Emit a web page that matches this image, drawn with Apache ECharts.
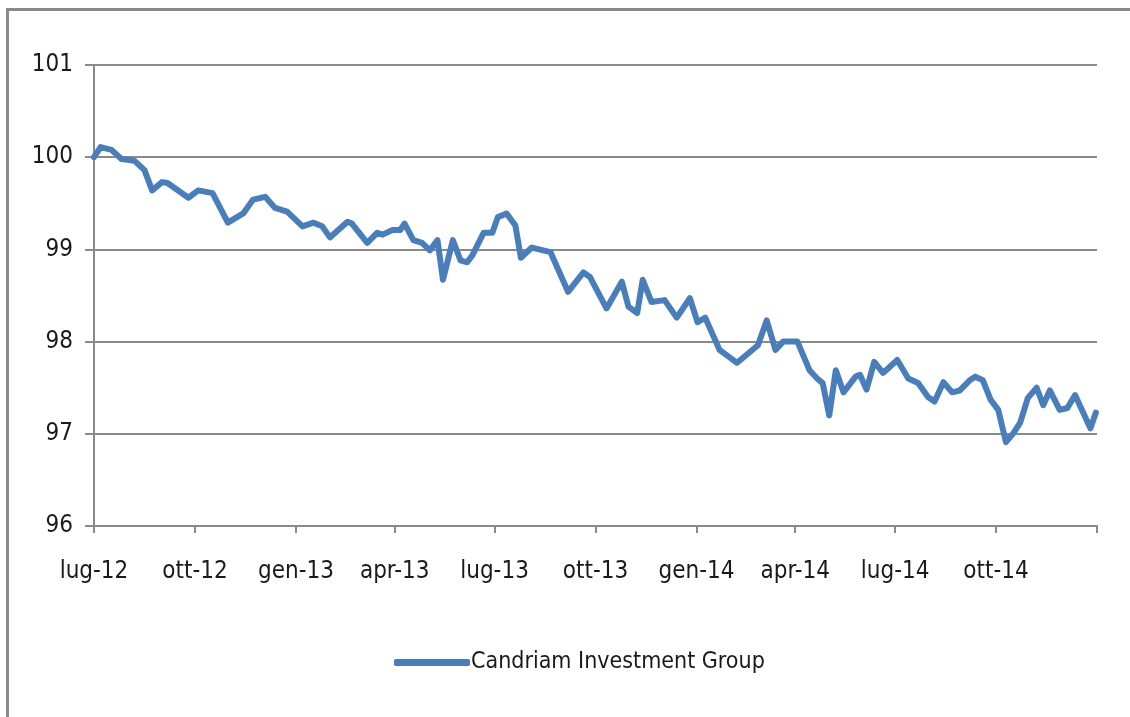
<!DOCTYPE html>
<html>
<head>
<meta charset="utf-8">
<script src="https://cdn.jsdelivr.net/npm/echarts@6/dist/echarts.min.js"></script>
<style>
  html, body { margin: 0; padding: 0; background: #fff; }
  #chart { width: 1130px; height: 717px; }
</style>
</head>
<body>
<div id="chart"></div>
<script>
// dates and values (points along the line)
var dates = [
    '2012-07-01','2012-07-07','2012-07-17','2012-07-26','2012-08-07','2012-08-16','2012-08-23',
    '2012-09-01','2012-09-06','2012-09-25','2012-10-04','2012-10-17','2012-10-31','2012-11-14',
    '2012-11-23','2012-12-04','2012-12-13','2012-12-24','2013-01-07','2013-01-17','2013-01-25',
    '2013-02-01','2013-02-17','2013-02-21','2013-03-07','2013-03-16','2013-03-21','2013-03-30',
    '2013-04-06','2013-04-10','2013-04-18','2013-04-26','2013-05-03','2013-05-10','2013-05-15',
    '2013-05-24','2013-05-31','2013-06-06','2013-06-11','2013-06-21','2013-06-29','2013-07-04',
    '2013-07-12','2013-07-20','2013-07-25','2013-08-04','2013-08-21','2013-09-06','2013-09-20',
    '2013-09-26','2013-10-11','2013-10-25','2013-10-31','2013-11-08','2013-11-13','2013-11-21',
    '2013-12-03','2013-12-14','2013-12-26','2014-01-02','2014-01-09','2014-01-22','2014-02-07',
    '2014-02-16','2014-02-26','2014-03-06','2014-03-14','2014-03-21','2014-04-03','2014-04-14',
    '2014-04-21','2014-04-26','2014-05-02','2014-05-08','2014-05-15','2014-05-26','2014-05-30',
    '2014-06-05','2014-06-12','2014-06-20','2014-07-03','2014-07-13','2014-07-22','2014-07-31',
    '2014-08-06','2014-08-14','2014-08-22','2014-08-29','2014-09-07','2014-09-12','2014-09-19',
    '2014-09-26','2014-10-03','2014-10-10','2014-10-17','2014-10-23','2014-10-30','2014-11-07',
    '2014-11-13','2014-11-19','2014-11-28','2014-12-05','2014-12-12','2014-12-26','2014-12-31'
];
var values = [
    100.00, 100.11, 100.08, 99.98, 99.96, 99.86, 99.64,
    99.73, 99.72, 99.56, 99.64, 99.61, 99.29, 99.39,
    99.54, 99.57, 99.45, 99.41, 99.25, 99.29, 99.25,
    99.13, 99.30, 99.28, 99.07, 99.18, 99.16, 99.21,
    99.21, 99.28, 99.10, 99.07, 98.99, 99.10, 98.67,
    99.10, 98.88, 98.86, 98.94, 99.18, 99.18, 99.35,
    99.39, 99.26, 98.91, 99.02, 98.97, 98.54, 98.75,
    98.70, 98.36, 98.65, 98.38, 98.31, 98.67, 98.43,
    98.45, 98.26, 98.47, 98.21, 98.26, 97.91, 97.77,
    97.86, 97.96, 98.23, 97.91, 98.00, 98.00, 97.69,
    97.60, 97.55, 97.20, 97.69, 97.45, 97.62, 97.64,
    97.48, 97.78, 97.66, 97.80, 97.60, 97.55, 97.40,
    97.35, 97.56, 97.45, 97.47, 97.58, 97.62, 97.58,
    97.37, 97.26, 96.91, 97.01, 97.12, 97.39, 97.50,
    97.31, 97.47, 97.26, 97.28, 97.42, 97.06, 97.23
];
var seriesName = 'Candriam Investment Group';
var monthNames = ['gen','feb','mar','apr','mag','giu','lug','ago','set','ott','nov','dic'];
// quarter starts used for labels and ticks
var labelDates = ['2012-07-01','2012-10-01','2013-01-01','2013-04-01','2013-07-01',
                  '2013-10-01','2014-01-01','2014-04-01','2014-07-01','2014-10-01'];
var tickDates = labelDates.concat(['2015-01-01']);

function toTime(s) {
    var p = s.split('-');
    return new Date(+p[0], +p[1] - 1, +p[2]).getTime();
}

var font = '"Liberation Sans Narrow", "DejaVu Sans Condensed", "Open Sans", sans-serif';
var gray = '#8a8a8a';
var blue = '#4A7EBB';

var chart = echarts.init(document.getElementById('chart'));
var option = {
    animation: false,
    backgroundColor: '#fff',
    graphic: [{
        type: 'rect',
        shape: { x: 7.5, y: 9.5, width: 1200, height: 800 },
        style: { fill: 'none', stroke: gray, lineWidth: 3 },
        silent: true
    }],
    grid: { left: 94, right: 33, top: 65, bottom: 191 },
    legend: {
        left: 389,
        top: 646,
        icon: 'roundRect',
        itemWidth: 76,
        itemHeight: 7,
        itemGap: 4,
        itemStyle: { color: blue },
        textStyle: { fontFamily: font, fontSize: 23, color: '#1a1a1a', padding: [0, 0, 0, -4] },
        data: [seriesName]
    },
    xAxis: {
        type: 'value',
        min: toTime('2012-07-01'),
        max: toTime('2015-01-01'),
        axisLine: { show: true, lineStyle: { color: gray, width: 2 } },
        axisTick: {
            show: true, length: 7, inside: false,
            customValues: tickDates.map(toTime),
            lineStyle: { color: gray, width: 2 }
        },
        axisLabel: {
            customValues: labelDates.map(toTime),
            margin: 34,
            fontFamily: font, fontSize: 24, color: '#1a1a1a',
            formatter: function (val) {
                var d = new Date(val);
                return monthNames[d.getMonth()] + '-' + String(d.getFullYear()).slice(2);
            }
        },
        splitLine: { show: false }
    },
    yAxis: {
        type: 'value',
        min: 96,
        max: 101,
        interval: 1,
        axisLine: { show: true, lineStyle: { color: gray, width: 2 } },
        axisTick: { show: true, length: 9, lineStyle: { color: gray, width: 2 } },
        axisLabel: {
            margin: 21,
            fontFamily: font, fontSize: 24, color: '#1a1a1a'
        },
        splitLine: { show: true, lineStyle: { color: gray, width: 2 } }
    },
    series: [{
        name: seriesName,
        type: 'line',
        symbol: 'none',
        lineStyle: { color: blue, width: 6, join: 'round', cap: 'round' },
        itemStyle: { color: blue },
        data: dates.map(function (d, i) { return [toTime(d), values[i]]; })
    }]
};
chart.setOption(option);
</script>
</body>
</html>
